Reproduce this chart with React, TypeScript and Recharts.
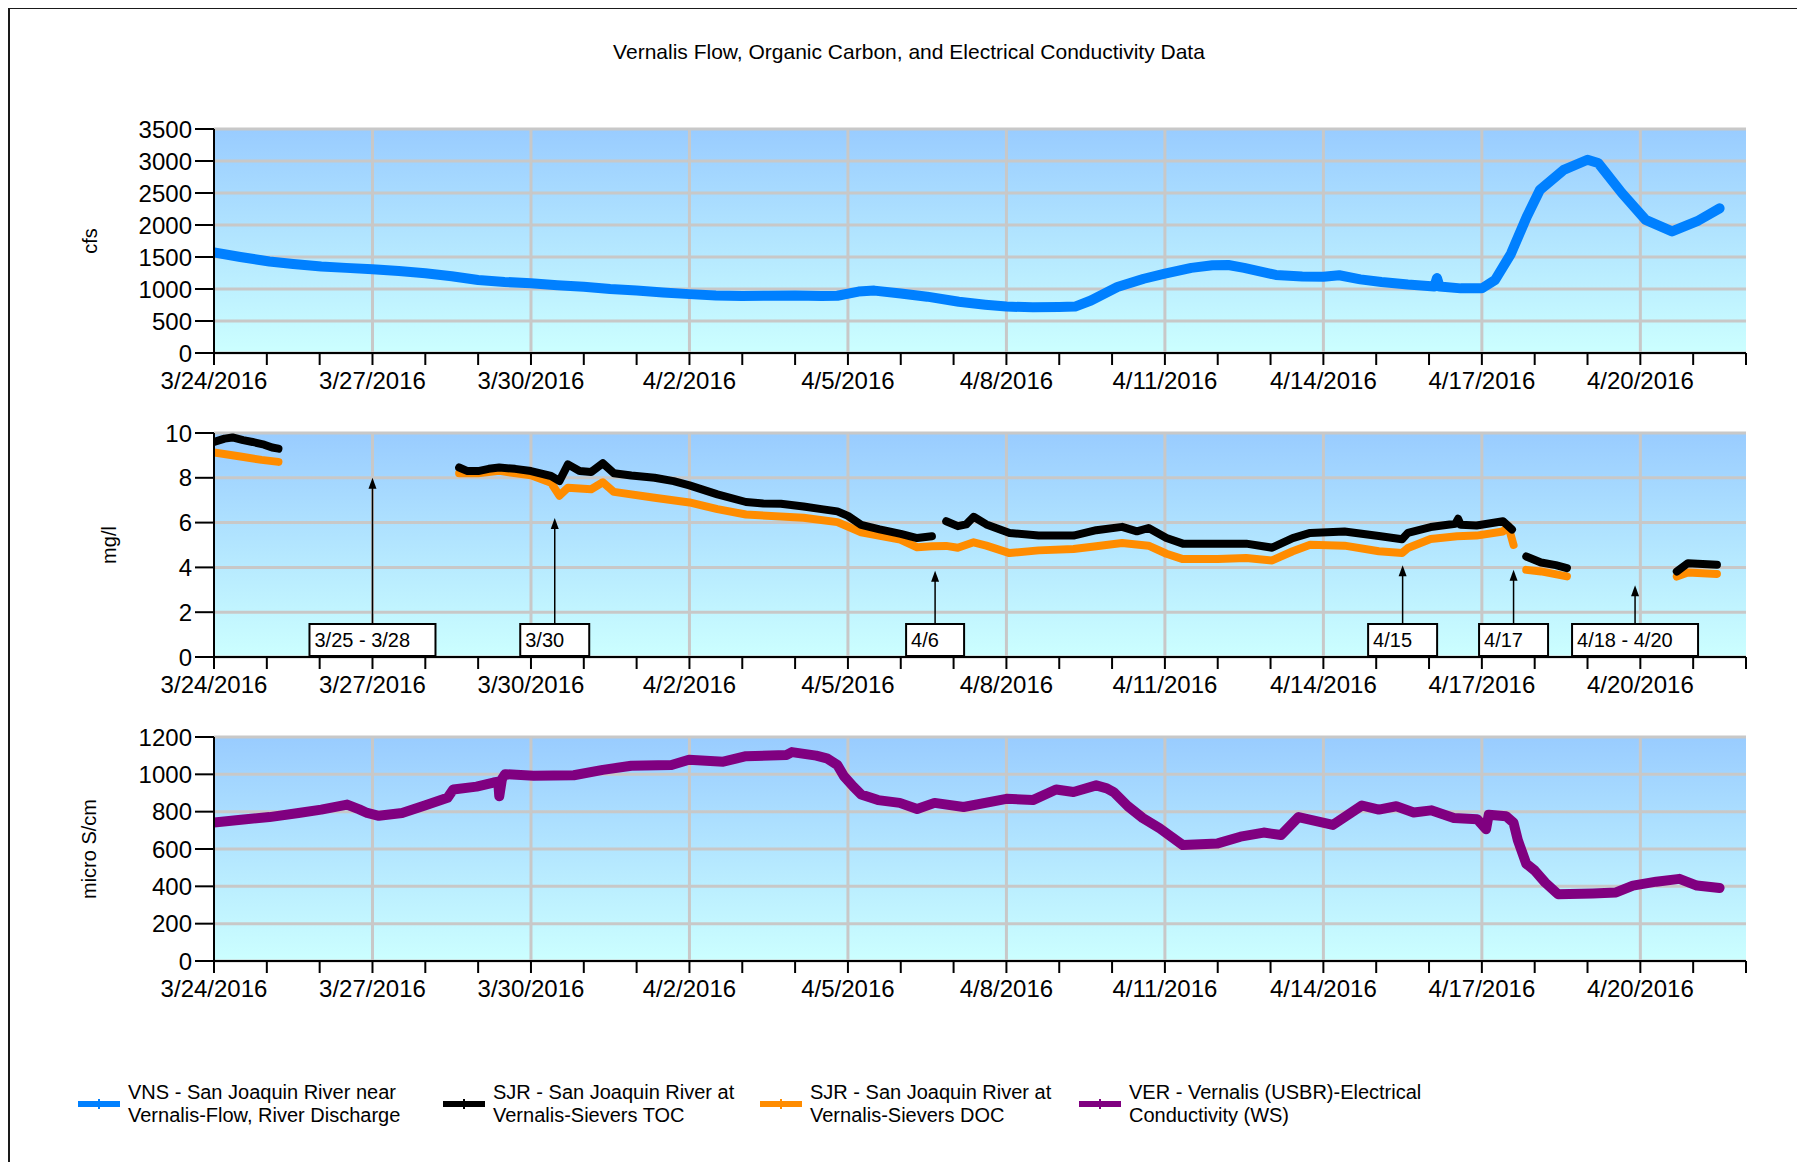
import React from "react";
import { CartesianGrid, Line, LineChart, ReferenceLine, XAxis, YAxis } from "recharts";

const FONT = "Arial, 'Liberation Sans', Helvetica, sans-serif";

// x values are days since 3/24/2016 00:00
const dayTicks = [0, 1, 2, 3, 4, 5, 6, 7, 8, 9, 10, 11, 12, 13, 14, 15, 16, 17, 18, 19, 20, 21, 22, 23, 24, 25, 26, 27, 28, 29];
const dateLabelDays = [0, 3, 6, 9, 12, 15, 18, 21, 24, 27];
const dateLabels = ["3/24/2016", "3/27/2016", "3/30/2016", "4/2/2016", "4/5/2016", "4/8/2016", "4/11/2016", "4/14/2016", "4/17/2016", "4/20/2016"];
const gridDays = [3, 6, 9, 12, 15, 18, 21, 24, 27];

const flowTicks = [0, 500, 1000, 1500, 2000, 2500, 3000, 3500];
const carbonTicks = [0, 2, 4, 6, 8, 10];
const ecTicks = [0, 200, 400, 600, 800, 1000, 1200];

// VNS flow, cfs
const flowDays = [0, 0.5, 1.05, 1.5, 2.03, 2.5, 3, 3.5, 4, 4.5, 5, 5.5, 6, 6.5, 7, 7.5, 8, 8.5, 9, 9.5, 10, 10.5, 11, 11.5, 11.8, 12.2, 12.5, 13, 13.5, 14.1, 14.6, 15, 15.5, 16, 16.3, 16.6, 17.1, 17.6, 18, 18.5, 18.9, 19.2, 19.5, 20.1, 20.6, 21, 21.3, 21.7, 22.1, 22.6, 23.1, 23.15, 23.2, 23.6, 24, 24.25, 24.55, 24.85, 25.1, 25.55, 26, 26.2, 26.65, 27.1, 27.6, 28.1, 28.5];
const flowCfs = [1570, 1500, 1430, 1390, 1350, 1330, 1310, 1280, 1245, 1200, 1140, 1110, 1090, 1060, 1035, 1000, 975, 945, 920, 900, 890, 895, 900, 890, 895, 960, 975, 930, 880, 800, 755, 725, 715, 720, 725, 820, 1030, 1160, 1240, 1330, 1370, 1375, 1330, 1220, 1195, 1190, 1215, 1150, 1110, 1070, 1040, 1170, 1040, 1010, 1010, 1140, 1550, 2130, 2550, 2860, 3020, 2970, 2500, 2080, 1900, 2070, 2260];

// SJR TOC, mg/l (null = no data)
const tocDays = [0, 0.2, 0.35, 0.55, 0.73, 0.95, 1.1, 1.22, 3, 4.64, 4.8, 5, 5.2, 5.4, 5.7, 6, 6.38, 6.54, 6.7, 6.92, 7.14, 7.36, 7.57, 7.9, 8.34, 8.7, 9, 9.53, 10.07, 10.4, 10.73, 11.16, 11.5, 11.8, 12, 12.25, 12.6, 13, 13.31, 13.59, 13.7, 13.86, 14.08, 14.24, 14.38, 14.62, 15.06, 15.61, 16.27, 16.7, 17.19, 17.47, 17.69, 18.03, 18.34, 19, 19.54, 20.03, 20.42, 20.75, 21.4, 22.05, 22.49, 22.6, 23.03, 23.5, 23.55, 23.6, 23.9, 24.4, 24.57, 24.7, 24.84, 25.12, 25.4, 25.61, 26.5, 27.69, 27.9, 28.18, 28.45];
const tocMgl = [9.6, 9.75, 9.8, 9.68, 9.6, 9.48, 9.35, 9.3, null, 8.46, 8.3, 8.3, 8.4, 8.46, 8.4, 8.3, 8.08, 7.86, 8.6, 8.3, 8.26, 8.65, 8.2, 8.1, 8.0, 7.85, 7.66, 7.26, 6.92, 6.85, 6.84, 6.72, 6.6, 6.5, 6.3, 5.9, 5.7, 5.5, 5.31, 5.39, null, 6.06, 5.84, 5.92, 6.26, 5.92, 5.54, 5.42, 5.42, 5.66, 5.81, 5.61, 5.76, 5.31, 5.06, 5.06, 5.06, 4.88, 5.31, 5.54, 5.6, 5.4, 5.26, 5.54, 5.8, 5.95, 6.17, 5.9, 5.87, 6.06, 5.69, null, 4.49, 4.22, 4.1, 3.97, null, 3.82, 4.19, 4.15, 4.12];

// SJR DOC, mg/l
const docDays = [0, 0.5, 0.9, 1.22, 3, 4.64, 5, 5.4, 6, 6.38, 6.54, 6.7, 7.14, 7.36, 7.57, 8.34, 9, 9.53, 10.07, 11.16, 11.8, 12.25, 12.99, 13.31, 13.59, 13.86, 14.08, 14.38, 14.62, 15.06, 15.61, 16.27, 16.7, 17.19, 17.69, 18.03, 18.34, 19, 19.54, 20.03, 20.42, 20.75, 21.4, 22.05, 22.49, 22.6, 23.03, 23.53, 23.9, 24.4, 24.5, 24.6, 24.7, 24.84, 25.12, 25.61, 26.5, 27.69, 27.9, 28.45];
const docMgl = [9.13, 8.95, 8.8, 8.71, null, 8.2, 8.2, 8.31, 8.11, 7.78, 7.2, 7.56, 7.49, 7.8, 7.37, 7.11, 6.9, 6.6, 6.36, 6.22, 6.02, 5.57, 5.24, 4.9, 4.94, 4.96, 4.88, 5.12, 4.97, 4.64, 4.76, 4.82, 4.94, 5.09, 4.97, 4.61, 4.37, 4.37, 4.42, 4.31, 4.72, 5.01, 4.97, 4.72, 4.64, 4.87, 5.27, 5.39, 5.42, 5.6, 5.85, 5.0, null, 3.89, 3.82, 3.6, null, 3.59, 3.77, 3.71];

// VER electrical conductivity, micro S/cm
const ecDays = [0, 0.51, 1.05, 1.6, 2.03, 2.52, 2.75, 2.9, 3.12, 3.56, 3.99, 4.42, 4.53, 4.97, 5.29, 5.38, 5.4, 5.45, 5.51, 6.05, 6.81, 7.36, 7.9, 8.66, 8.99, 9.64, 10.07, 10.84, 10.94, 11.4, 11.6, 11.8, 11.92, 12.1, 12.25, 12.57, 12.98, 13.31, 13.64, 14.19, 15, 15.5, 15.94, 16.27, 16.7, 16.9, 17.03, 17.3, 17.58, 17.9, 18.34, 19, 19.43, 19.87, 20.2, 20.53, 21.18, 21.73, 22.05, 22.38, 22.71, 23.04, 23.47, 23.91, 24.08, 24.13, 24.46, 24.6, 24.68, 24.84, 25, 25.2, 25.44, 26.1, 26.54, 26.86, 27.3, 27.74, 28.07, 28.5];
const ecUs = [742, 757, 771, 793, 811, 838, 812, 793, 778, 793, 833, 874, 919, 934, 956, 960, 883, 974, 1001, 992, 995, 1024, 1046, 1050, 1078, 1068, 1097, 1104, 1119, 1100, 1086, 1050, 992, 935, 892, 862, 847, 814, 847, 825, 869, 862, 919, 905, 941, 925, 905, 829, 766, 711, 621, 630, 666, 688, 675, 771, 729, 833, 811, 829, 796, 807, 766, 760, 706, 784, 775, 740, 648, 521, 485, 420, 358, 362, 367, 404, 425, 440, 404, 391];

// callouts on the organic carbon panel
const noteLabels = ["3/25 - 3/28", "3/30", "4/6", "4/15", "4/17", "4/18 - 4/20"];
const noteDays = [3.0, 6.45, 13.65, 22.5, 24.6, 26.9];
const noteTips = [8.0, 6.2, 3.85, 4.1, 3.9, 3.2];

const legendNames = [
  ["VNS - San Joaquin River near", "Vernalis-Flow, River Discharge"],
  ["SJR - San Joaquin River at", "Vernalis-Sievers TOC"],
  ["SJR - San Joaquin River at", "Vernalis-Sievers DOC"],
  ["VER - Vernalis (USBR)-Electrical", "Conductivity (WS)"],
];
const legendColors = ["#0080ff", "#000000", "#ff8c00", "#800080"];

const toPoints = (xs: number[], ys: (number | null)[]) => xs.map((x, i) => ({ x, y: ys[i] }));

const dateTick = (d: number) => {
  const i = dateLabelDays.indexOf(d);
  return i >= 0 ? dateLabels[i] : "";
};

const textWidth = (s: string, size: number) =>
  s.split("").reduce((w, c) => w + (c === "/" || c === " " ? 0.278 : c === "-" ? 0.333 : 0.556), 0) * size;

function NoteShape(props: any) {
  const { x1, y1, x2, y2, text } = props;
  if (x1 == null || y1 == null) return null;
  const cx = x1;
  const yb = Math.max(y1, y2) - 1;
  const yt = Math.min(y1, y2);
  const w = Math.round(textWidth(text, 20) + 30);
  const bx = cx - w / 2;
  return (
    <g>
      <line x1={cx} y1={yb - 32} x2={cx} y2={yt + 9} stroke="#000" strokeWidth={1.5} />
      <polygon points={`${cx},${yt} ${cx - 4},${yt + 11} ${cx + 4},${yt + 11}`} fill="#000" />
      <rect x={bx} y={yb - 32} width={w} height={32} fill="#fff" stroke="#000" strokeWidth={2} />
      <text x={bx + 5} y={yb - 9} fontSize={20} fontFamily={FONT} fill="#000">
        {text}
      </text>
    </g>
  );
}

type Series = { key: string; data: { x: number; y: number | null }[]; color: string; width: number };

function Panel({
  id,
  top,
  unit,
  unitX,
  max,
  ticks,
  series,
  notes = false,
}: {
  id: string;
  top: number;
  unit: string;
  unitX: number;
  max: number;
  ticks: number[];
  series: Series[];
  notes?: boolean;
}) {
  const gid = `plotBg-${id}`;
  const axisStroke = { stroke: "#000", strokeWidth: 2 };
  return (
    <>
      <div
        style={{
          position: "absolute",
          left: unitX,
          top: top + 21 + 112,
          transform: "translate(-50%, -50%) rotate(-90deg)",
          font: `20px ${FONT}`,
          lineHeight: 1,
          whiteSpace: "nowrap",
          color: "#000",
        }}
      >
        {unit}
      </div>
      <div style={{ position: "absolute", left: 0, top }}>
        <LineChart width={1760} height={300} margin={{ top: 21, right: 22, bottom: 5, left: 10 }}>
          <defs>
            <linearGradient id={gid} x1="0" y1="0" x2="0" y2="1">
              <stop offset="0%" stopColor="#99ccff" />
              <stop offset="100%" stopColor="#ccffff" />
            </linearGradient>
          </defs>
          <CartesianGrid
            fill={`url(#${gid})`}
            fillOpacity={1}
            stroke="#c8c8c8"
            strokeWidth={3}
            verticalValues={gridDays}
          />
          <XAxis
            type="number"
            dataKey="x"
            domain={[0, 29]}
            ticks={dayTicks}
            interval={0}
            tickFormatter={dateTick}
            height={50}
            tickSize={12}
            tickMargin={7}
            axisLine={axisStroke}
            tickLine={axisStroke}
            tick={{ fill: "#000", fontSize: 24, fontFamily: FONT }}
            allowDataOverflow
          />
          <YAxis
            type="number"
            domain={[0, max]}
            ticks={ticks}
            interval={0}
            width={196}
            tickSize={19}
            tickMargin={3}
            axisLine={axisStroke}
            tickLine={axisStroke}
            tick={{ fill: "#000", fontSize: 24, fontFamily: FONT }}
            allowDataOverflow
          />
          {series.map((s) => (
            <Line
              key={s.key}
              data={s.data}
              dataKey="y"
              type="linear"
              stroke={s.color}
              strokeWidth={s.width}
              strokeLinecap="round"
              strokeLinejoin="round"
              dot={false}
              activeDot={false}
              connectNulls={false}
              isAnimationActive={false}
            />
          ))}
          {notes &&
            noteLabels.map((label, i) => (
              <ReferenceLine
                key={label}
                segment={[
                  { x: noteDays[i], y: 0 },
                  { x: noteDays[i], y: noteTips[i] },
                ]}
                shape={(p: any) => <NoteShape {...p} text={label} />}
              />
            ))}
        </LineChart>
      </div>
    </>
  );
}

function LegendItem({ color, lines, left }: { color: string; lines: string[]; left: number }) {
  return (
    <div style={{ position: "absolute", left, top: 1073, display: "flex", alignItems: "center" }}>
      <svg width={42} height={14} style={{ marginRight: 8 }}>
        <rect x={0} y={4} width={42} height={6} fill={color} />
        <rect x={20} y={2} width={2} height={10} fill={color} />
      </svg>
      <div style={{ font: `20px ${FONT}`, lineHeight: "23px", color: "#000", whiteSpace: "nowrap" }}>
        {lines.map((l) => (
          <div key={l}>{l}</div>
        ))}
      </div>
    </div>
  );
}

export default function App() {
  const flow: Series[] = [{ key: "flow", data: toPoints(flowDays, flowCfs), color: legendColors[0], width: 10 }];
  const carbon: Series[] = [
    { key: "doc", data: toPoints(docDays, docMgl), color: legendColors[2], width: 8 },
    { key: "toc", data: toPoints(tocDays, tocMgl), color: legendColors[1], width: 8 },
  ];
  const ec: Series[] = [{ key: "ec", data: toPoints(ecDays, ecUs), color: legendColors[3], width: 10 }];
  const legendLefts = [70, 435, 752, 1071];

  return (
    <div style={{ position: "relative", width: 1791, height: 1162, marginBottom: -8, overflow: "hidden", fontFamily: FONT, background: "#fff" }}>
      <div
        style={{
          position: "absolute",
          left: 0,
          top: -1,
          width: 1793,
          height: 1220,
          border: "2px solid #1a1a1a",
          boxSizing: "border-box",
        }}
      />
      <div
        style={{
          position: "absolute",
          left: 0,
          top: 32,
          width: 1802,
          textAlign: "center",
          font: `21px ${FONT}`,
          lineHeight: "24px",
          color: "#000",
        }}
      >
        Vernalis Flow, Organic Carbon, and Electrical Conductivity Data
      </div>
      <Panel id="flow" top={100} unit="cfs" unitX={82} max={3500} ticks={flowTicks} series={flow} />
      <Panel id="carbon" top={404} unit="mg/l" unitX={101} max={10} ticks={carbonTicks} series={carbon} notes />
      <Panel id="ec" top={708} unit="micro S/cm" unitX={81} max={1200} ticks={ecTicks} series={ec} />
      {legendNames.map((lines, i) => (
        <LegendItem key={i} color={legendColors[i]} lines={lines} left={legendLefts[i]} />
      ))}
    </div>
  );
}
